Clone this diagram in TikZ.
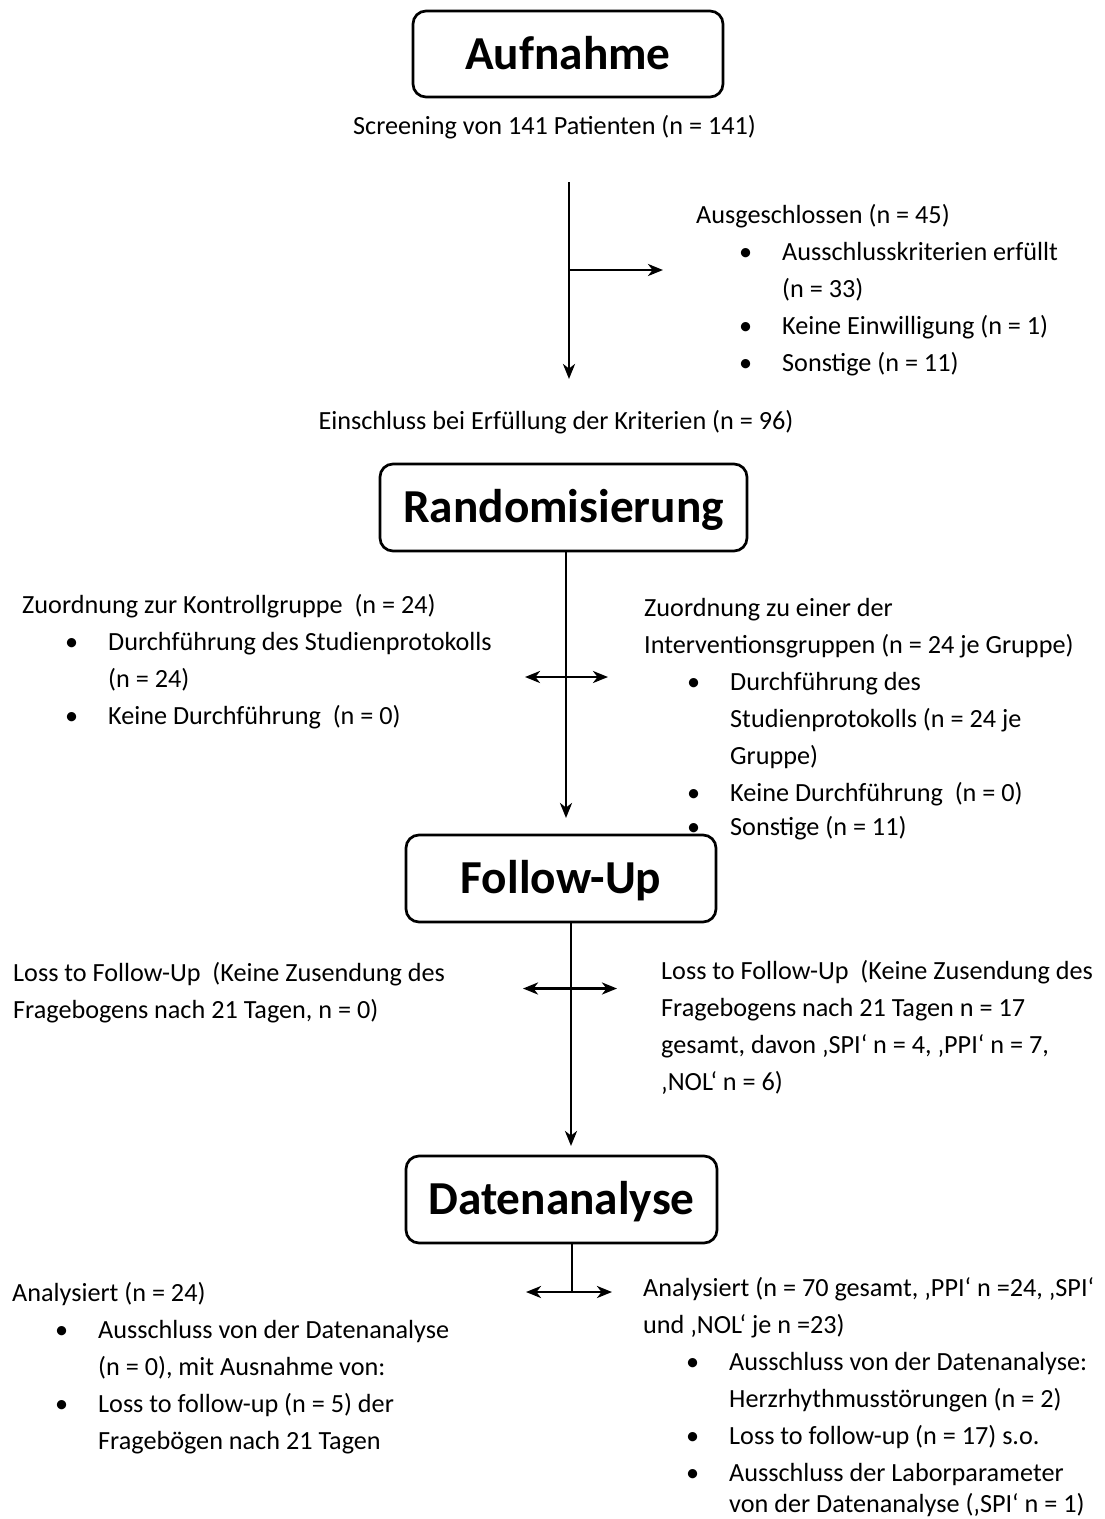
\documentclass[tikz,border=0pt]{standalone}
\usepackage{fontspec}
\setmainfont{Carlito}
\usetikzlibrary{arrows.meta}

\newcommand{\bul}{\hspace*{43pt}\makebox[43pt][l]{\textbullet}}
\newcommand{\ind}{\hspace*{86pt}}

\tikzset{
  phase/.style={draw, line width=2.7pt, rounded corners=13pt, inner sep=0pt,
    font=\fontsize{47.3}{56}\selectfont\bfseries, text height=30pt, text depth=0pt},
  txt/.style={anchor=base west, align=left, inner sep=0pt,
    font=\fontsize{26.2}{37}\selectfont},
  arr/.style={line width=2.8pt, -{Stealth[length=15pt,width=12pt,inset=4.5pt]}},
  arr2/.style={line width=2.8pt, {Stealth[length=15pt,width=12pt,inset=4.5pt]}-{Stealth[length=15pt,width=12pt,inset=4.5pt]}}
}

\begin{document}
\begin{tikzpicture}[x=1pt,y=-1pt]
\useasboundingbox (0,0) rectangle (1104,1519);

% phases
\node[phase, minimum width=310pt, minimum height=86pt] (auf) at (568,54) {Aufnahme};
\node[phase, minimum width=367pt, minimum height=87pt] (rand) at (563.5,507.5) {Randomisierung};
\node[phase, minimum width=310pt, minimum height=87pt] (foll) at (561,878.5) {Follow-Up};
\node[phase, minimum width=311pt, minimum height=87pt] (daten) at (561.5,1199.5) {Datenanalyse};

% Aufnahme (text blocks placed at the baseline of their last line)
\node[txt, anchor=base] (screen) at (554.5,134) {Screening von 141 Patienten (n = 141)};
\node[txt] (excl) at (696,371) {Ausgeschlossen (n = 45)\\
  \bul Ausschlusskriterien erfüllt\\
  \ind (n = 33)\\
  \bul Keine Einwilligung (n = 1)\\
  \bul Sonstige (n = 11)};
\node[txt, anchor=base] (einschl) at (556,429) {Einschluss bei Erfüllung der Kriterien (n = 96)};

\coordinate (s1) at (569,182);
\coordinate (e1) at (569,379);
\coordinate (b1) at (663,270);
\draw[arr] (s1) -- (e1);
\draw[arr] (s1 |- b1) -- (b1);

% Randomisierung
\node[txt] (ctrl) at (22,724) {Zuordnung zur Kontrollgruppe~ (n = 24)\\
  \bul Durchführung des Studienprotokolls\\
  \ind (n = 24)\\
  \bul Keine Durchführung~ (n = 0)};
\node[txt] (interv) at (644,835) {Zuordnung zu einer der\\
  Interventionsgruppen (n = 24 je Gruppe)\\
  \bul Durchführung des\\
  \ind Studienprotokolls (n = 24 je\\
  \ind Gruppe)\\
  \bul Keine Durchführung~ (n = 0)\\[-3pt]
  \bul Sonstige (n = 11)};

\coordinate (e2) at (566,818);
\coordinate (l2) at (525,677);
\coordinate (r2) at (608,677);
\draw[arr] (rand.south -| e2) -- (e2);
\draw[arr2] (l2) -- (r2);

% Follow-Up
\node[txt] (lossl) at (13,1018) {Loss to Follow-Up~ (Keine Zusendung des\\
  Fragebogens nach 21 Tagen, n = 0)};
\node[txt] (lossr) at (661,1090) {Loss to Follow-Up~ (Keine Zusendung des\\
  Fragebogens nach 21 Tagen n = 17\\
  gesamt, davon ‚SPI‘ n = 4, ‚PPI‘ n = 7,\\
  ‚NOL‘ n = 6)};

\coordinate (e3) at (571,1146);
\coordinate (l3) at (523,988.5);
\coordinate (r3) at (617,988.5);
\draw[arr] (foll.south -| e3) -- (e3);
\draw[arr2] (l3) -- (r3);

% Datenanalyse
\node[txt] (anall) at (12,1449) {Analysiert (n = 24)\\
  \bul Ausschluss von der Datenanalyse\\
  \ind (n = 0), mit Ausnahme von:\\
  \bul Loss to follow-up (n = 5) der\\
  \ind Fragebögen nach 21 Tagen};
\node[txt] (analr) at (643,1512) {Analysiert (n = 70 gesamt, ‚PPI‘ n =24, ‚SPI‘\\
  und ‚NOL‘ je n =23)\\
  \bul Ausschluss von der Datenanalyse:\\
  \ind Herzrhythmusstörungen (n = 2)\\
  \bul Loss to follow-up (n = 17) s.o.\\
  \bul Ausschluss der Laborparameter\\[-6pt]
  \ind von der Datenanalyse (‚SPI‘ n = 1)};

\coordinate (m4) at (572,1292);
\coordinate (l4) at (526,1292);
\coordinate (r4) at (612,1292);
\draw[line width=2.8pt] (daten.south -| m4) -- (m4);
\draw[arr2] (l4) -- (r4);
\end{tikzpicture}
\end{document}
